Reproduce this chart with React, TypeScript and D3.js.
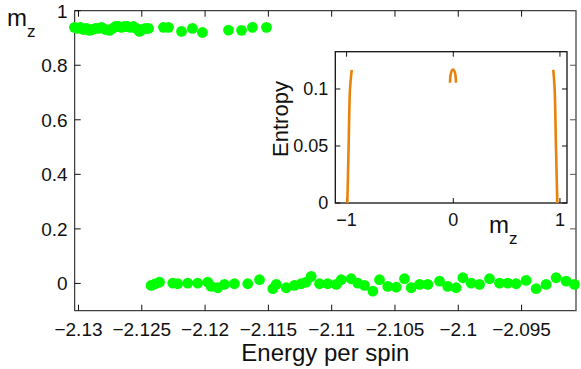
import { useEffect, useRef } from "react";
import * as d3 from "d3";

// upper branch (m_z near 0.93)
const upperEnergy = [
  -2.13032, -2.13008, -2.12984, -2.12961, -2.12937, -2.12913, -2.12889, -2.12866, -2.12842,
  -2.12818, -2.12787, -2.12755, -2.12731, -2.12708, -2.12684, -2.1266, -2.12637, -2.12613,
  -2.12589, -2.12566, -2.12542, -2.12518, -2.12494, -2.12471, -2.12447, -2.12329, -2.12289,
  -2.12186, -2.121, -2.12021, -2.11815, -2.11712, -2.11626, -2.11515,
];
const upperMz = [
  0.939, 0.935, 0.939, 0.931, 0.935, 0.928, 0.931, 0.935, 0.935,
  0.939, 0.931, 0.928, 0.935, 0.942, 0.942, 0.939, 0.942, 0.942,
  0.939, 0.942, 0.935, 0.924, 0.931, 0.935, 0.935, 0.939, 0.939,
  0.924, 0.935, 0.92, 0.929, 0.928, 0.939, 0.939,
];

// lower branch (m_z near 0)
const lowerEnergy = [
  -2.12426, -2.12395, -2.1236, -2.12255, -2.12216, -2.12137, -2.12058, -2.11979, -2.11952,
  -2.119, -2.11847, -2.11768, -2.11663, -2.1157, -2.11465, -2.11438, -2.11359, -2.11294,
  -2.11241, -2.11201, -2.11162, -2.11096, -2.11031, -2.10964, -2.10925, -2.10846, -2.10794,
  -2.10741, -2.10675, -2.10622, -2.10557, -2.1049, -2.10425, -2.10372, -2.10306, -2.10241,
  -2.10148, -2.10083, -2.10017, -2.09964, -2.09898, -2.09832, -2.09753, -2.09674, -2.09609,
  -2.09543, -2.09464, -2.09385, -2.09306, -2.09227, -2.09148, -2.09082,
];
const lowerMz = [
  -0.0073, -0.002, 0.0048, 0.0011, -0.0011, 0.0011, 0.0011, 0.0048, -0.011, -0.0158,
  -0.0037, -0.0011, -0.0011, 0.0136, -0.0194, -0.0037, -0.0158, -0.0073, -0.0011, 0.0048,
  0.0257, -0.0011, -0.0011, -0.0037, 0.0136, 0.0172, 0.0011, -0.0073, -0.0282, 0.0136,
  -0.011, -0.0135, 0.0172, -0.0158, -0.0037, -0.0037, 0.0084, -0.011, -0.0158, 0.0209,
  0.0011, -0.0037, 0.0172, 0.0011, 0.0011, -0.0011, 0.011, -0.0194, -0.0037, 0.0209,
  0.0084, -0.0037,
];

const xTicks = [-2.13, -2.125, -2.12, -2.115, -2.11, -2.105, -2.1, -2.095];
const xTickLabels = ["−2.13", "−2.125", "−2.12", "−2.115", "−2.11", "−2.105", "−2.1", "−2.095"];
const yTicks = [0, 0.2, 0.4, 0.6, 0.8, 1];
const yTickLabels = ["0", "0.2", "0.4", "0.6", "0.8", "1"];

// inset: entropy vs m_z
const insetXTicks = [-1, 0, 1];
const insetXTickLabels = ["−1", "0", "1"];
const insetYTicks = [0, 0.05, 0.1];
const insetYTickLabels = ["0", "0.05", "0.1"];
const leftBranchM = [-0.993, -0.981, -0.968, -0.952];
const leftBranchS = [0, 0.05, 0.1, 0.1167];
const middleBranchM = [-0.031, -0.024, -0.009, 0.005, 0.019, 0.025];
const middleBranchS = [0.1055, 0.113, 0.1167, 0.1167, 0.113, 0.1055];
const rightBranchM = [0.9375, 0.95, 0.9625, 0.975];
const rightBranchS = [0.1167, 0.1, 0.05, 0];

const FONT = "'Liberation Sans', Arial, Helvetica, sans-serif";

export default function App() {
  const svgRef = useRef<SVGSVGElement>(null);

  useEffect(() => {
    if (!svgRef.current) return;
    const width = 581;
    const height = 369;
    const svg = d3.select(svgRef.current);
    svg.selectAll("*").remove();
    svg.attr("viewBox", `0 0 ${width} ${height}`);

    const x = d3.scaleLinear().domain([-2.1303, -2.0907]).range([74.7, 576]);
    const y = d3.scaleLinear().domain([-0.1, 1]).range([310.7, 10.7]);
    const tickLen = 6;

    const main = svg.append("g");
    const [x0, x1] = x.range();
    const [y0, y1] = y.range();

    // box
    main.append("rect")
      .attr("x", x0).attr("y", y1)
      .attr("width", x1 - x0).attr("height", y0 - y1)
      .attr("fill", "white").attr("stroke", "#111").attr("stroke-width", 1);
    main.append("line").attr("x1", x1).attr("x2", x1).attr("y1", y1).attr("y2", y0)
      .attr("stroke", "#888").attr("stroke-width", 1.2);

    // inward ticks on all sides
    xTicks.forEach((t, i) => {
      const px = x(t);
      main.append("line").attr("x1", px).attr("x2", px).attr("y1", y0).attr("y2", y0 - tickLen)
        .attr("stroke", "#111");
      main.append("line").attr("x1", px).attr("x2", px).attr("y1", y1).attr("y2", y1 + tickLen)
        .attr("stroke", "#111");
      main.append("text").attr("x", px).attr("y", 336)
        .attr("text-anchor", "middle").style("font-size", "19px").style("font-family", FONT)
        .attr("fill", "#111").text(xTickLabels[i]);
    });
    yTicks.forEach((t, i) => {
      const py = y(t);
      main.append("line").attr("x1", x0).attr("x2", x0 + tickLen).attr("y1", py).attr("y2", py)
        .attr("stroke", "#111");
      main.append("line").attr("x1", x1).attr("x2", x1 - tickLen).attr("y1", py).attr("y2", py)
        .attr("stroke", "#555");
      main.append("text").attr("x", x0 - 7).attr("y", py + 6.8)
        .attr("text-anchor", "end").style("font-size", "19px").style("font-family", FONT)
        .attr("fill", "#111").text(yTickLabels[i]);
    });

    // axis labels
    main.append("text").attr("x", (x0 + x1) / 2).attr("y", 360.5)
      .attr("text-anchor", "middle").style("font-size", "24px").style("font-family", FONT)
      .attr("fill", "#111").text("Energy per spin");
    const mz = main.append("text").attr("x", 7).attr("y", 26)
      .style("font-size", "24px").style("font-family", FONT).attr("fill", "#111");
    mz.append("tspan").text("m");
    mz.append("tspan").attr("dy", 11).style("font-size", "17px").text("z");

    // data points
    const pts = upperEnergy.map((e, i) => [e, upperMz[i]])
      .concat(lowerEnergy.map((e, i) => [e, lowerMz[i]]));
    main.append("g").selectAll("circle").data(pts).join("circle")
      .attr("cx", d => x(d[0])).attr("cy", d => y(d[1]))
      .attr("r", 5.4).attr("fill", "#00ff00");

    // ---- inset
    const ix = d3.scaleLinear().domain([-1.106, 1.066]).range([335.3, 567]);
    const iy = d3.scaleLinear().domain([0, 0.1327]).range([203, 51.7]);
    const [ix0, ix1] = ix.range();
    const [iy0, iy1] = iy.range();
    const inset = svg.append("g");
    inset.append("rect")
      .attr("x", ix0).attr("y", iy1)
      .attr("width", ix1 - ix0).attr("height", iy0 - iy1)
      .attr("fill", "white").attr("stroke", "#111").attr("stroke-width", 1.3);

    const itl = 5;
    insetXTicks.forEach((t, i) => {
      const px = ix(t);
      inset.append("line").attr("x1", px).attr("x2", px).attr("y1", iy0).attr("y2", iy0 - itl)
        .attr("stroke", "#111");
      inset.append("line").attr("x1", px).attr("x2", px).attr("y1", iy1).attr("y2", iy1 + itl)
        .attr("stroke", "#111");
      inset.append("text").attr("x", px).attr("y", 225.5)
        .attr("text-anchor", "middle").style("font-size", "18px").style("font-family", FONT)
        .attr("fill", "#111").text(insetXTickLabels[i]);
    });
    insetYTicks.forEach((t, i) => {
      const py = iy(t);
      inset.append("line").attr("x1", ix0).attr("x2", ix0 + itl).attr("y1", py).attr("y2", py)
        .attr("stroke", "#111");
      inset.append("line").attr("x1", ix1).attr("x2", ix1 - itl).attr("y1", py).attr("y2", py)
        .attr("stroke", "#111");
      inset.append("text").attr("x", ix0 - 7).attr("y", py + 6.4)
        .attr("text-anchor", "end").style("font-size", "18px").style("font-family", FONT)
        .attr("fill", "#111").text(insetYTickLabels[i]);
    });

    const line = d3.line<number[]>()
      .x(d => ix(d[0])).y(d => iy(d[1]))
      .curve(d3.curveCatmullRom);
    const branches = [
      leftBranchM.map((m, i) => [m, leftBranchS[i]]),
      middleBranchM.map((m, i) => [m, middleBranchS[i]]),
      rightBranchM.map((m, i) => [m, rightBranchS[i]]),
    ];
    branches.forEach(b => {
      inset.append("path").attr("d", line(b) as string)
        .attr("fill", "none").attr("stroke", "#e8820c").attr("stroke-width", 2.6);
    });

    inset.append("text")
      .attr("transform", `translate(288,119) rotate(-90)`)
      .attr("text-anchor", "middle").style("font-size", "22px").style("font-family", FONT)
      .attr("fill", "#111").text("Entropy");
    const imz = inset.append("text").attr("x", 489).attr("y", 233)
      .style("font-size", "24px").style("font-family", FONT).attr("fill", "#111");
    imz.append("tspan").text("m");
    imz.append("tspan").attr("dy", 11).style("font-size", "17px").text("z");
  }, []);

  return (
    <div style={{ position: "absolute", left: 0, top: 0, width: 581, height: 369, background: "white" }}>
      <svg ref={svgRef} width={581} height={369} style={{ display: "block" }} />
    </div>
  );
}
